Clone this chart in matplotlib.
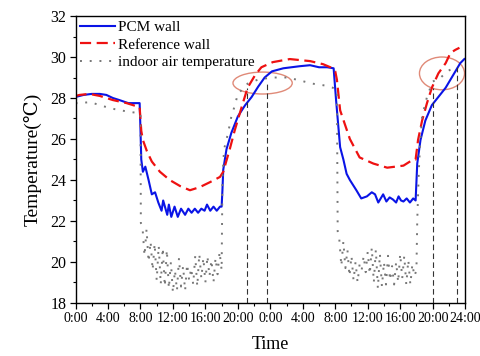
import numpy as np
import matplotlib
matplotlib.use("Agg")
import matplotlib.pyplot as plt
from matplotlib.patches import Ellipse

plt.rcParams['font.family'] = ['Liberation Serif', 'DejaVu Serif']

# PCM wall surface temperature (hours, degC)
t_pcm = [0, 0.5, 1, 2, 3, 3.8, 4.6, 5.4, 6.5, 7.9, 8.0, 8.1, 8.3, 8.6, 9.0, 9.4, 9.8,
         10.2, 10.6, 10.8, 11.3, 11.5, 11.8, 12.2, 12.6, 13.0, 13.5, 13.9, 14.3, 14.7,
         15.1, 15.5, 15.9, 16.2, 16.6, 17.0, 17.4, 17.8, 18.0, 18.1, 18.2, 18.6, 19.2,
         20.0, 20.9, 21.7, 22.5, 23.3, 24.2, 25.6, 27.6, 28.9, 30.0, 31.0, 31.8, 32.1,
         32.6, 33.0, 33.4, 33.8, 34.2, 34.6, 35.2, 35.9, 36.5, 36.9, 37.3, 37.9, 38.3,
         38.7, 39.1, 39.5, 39.8, 40.1, 40.4, 40.8, 41.2, 41.6, 41.9, 42.1, 42.5, 43.1,
         43.9, 44.7, 45.6, 46.2, 46.8, 47.4, 47.9]
v_pcm = [28.05, 28.1, 28.15, 28.2, 28.2, 28.15, 28.0, 27.9, 27.75, 27.75, 26.5, 25.0,
         24.4, 24.65, 24.0, 23.3, 23.4, 22.9, 22.5, 23.0, 22.3, 22.8, 22.2, 22.7, 22.2,
         22.6, 22.3, 22.6, 22.4, 22.6, 22.4, 22.6, 22.5, 22.8, 22.5, 22.7, 22.5, 22.7,
         22.7, 23.5, 24.5, 25.5, 26.3, 27.1, 27.65, 28.05, 28.55, 29.0, 29.3, 29.45,
         29.55, 29.6, 29.5, 29.5, 29.45, 27.9, 25.6, 25.0, 24.3, 24.0, 23.75, 23.5,
         23.1, 23.2, 23.4, 23.3, 22.9, 23.3, 22.95, 23.15, 23.05, 22.9, 23.2, 23.0,
         22.95, 23.1, 22.9, 23.1, 23.0, 24.8, 25.95, 26.9, 27.65, 28.05, 28.5, 28.9,
         29.3, 29.7, 29.9]

# reference wall
t_ref = [0, 0.5, 1.7, 3.0, 4.6, 6.3, 7.9, 8.1, 8.3, 8.8, 9.4, 10.4, 11.6, 12.9, 14.1,
         15.3, 16.6, 17.8, 18.2, 19.0, 19.6, 20.5, 21.2, 22.1, 22.9, 24.3, 26.4, 28.9,
         30.5, 31.4, 32.0, 32.2, 32.6, 33.8, 35.0, 36.7, 38.4, 40.4, 41.6, 41.9, 42.2,
         42.7, 43.3, 43.9, 44.7, 45.6, 46.2, 46.8, 47.3]
v_ref = [28.1, 28.15, 28.2, 28.1, 27.9, 27.75, 27.55, 26.4, 25.95, 25.4, 24.9, 24.4,
         24.0, 23.7, 23.5, 23.65, 23.9, 24.15, 24.4, 25.5, 26.4, 27.6, 28.5, 29.1, 29.5,
         29.75, 29.9, 29.8, 29.65, 29.5, 29.3, 28.9, 27.4, 26.0, 25.1, 24.8, 24.6, 24.7,
         25.0, 25.0, 25.95, 26.9, 27.75, 28.5, 29.2, 29.7, 30.2, 30.35, 30.45]

# indoor air temperature
t_air_night1 = [0, 0.5, 1.8, 3.0, 4.3, 5.5, 7.1, 8.0, 8.05]
v_air_night1 = [27.75, 27.75, 27.8, 27.65, 27.5, 27.4, 27.3, 27.25, 21.9]
t_air_day1 = np.arange(8.25, 18.01, 0.25)
v_air_day1 = [21.7, 20.3, 21.6, 20.0, 21.0, 19.6, 20.9, 19.1, 20.8, 18.9, 20.7, 18.8,
              20.6, 18.7, 20.0, 18.5, 19.6, 18.6, 20.2, 18.8, 19.8, 18.6, 19.9, 19.1,
              19.7, 18.9, 20.3, 18.8, 20.4, 19.2, 20.2, 19.0, 20.3, 19.3, 20.1, 19.0,
              20.2, 19.4, 20.5, 19.6]
t_air_night2 = [18.1, 18.3, 18.8, 19.2, 19.6, 20.0, 20.5, 21.2, 22.5, 24.2, 26.0, 27.2,
                29.2, 30.9, 31.7, 32.2, 32.3]
v_air_night2 = [24.0, 25.5, 26.3, 27.1, 27.6, 28.2, 28.4, 28.7, 28.9, 29.0, 29.0, 28.9,
                28.7, 28.6, 28.5, 28.4, 21.5]
t_air_day2 = np.arange(32.5, 42.01, 0.25)
v_air_day2 = [21.1, 19.8, 21.0, 19.7, 20.6, 19.3, 20.3, 19.1, 20.0, 19.0, 19.9, 19.6,
              20.3, 19.5, 20.5, 19.4, 20.7, 19.0, 20.6, 18.7, 20.4, 18.8, 20.0, 18.9,
              20.3, 19.1, 19.8, 18.9, 20.0, 19.0, 20.4, 19.2, 20.3, 18.9, 20.1, 18.9,
              19.9, 19.3, 19.6]
t_air_night3 = [42.1, 42.3, 42.5, 42.7, 43.3, 44.0, 45.0, 45.8, 46.5, 47.0]
v_air_night3 = [22.0, 24.5, 26.1, 27.1, 28.05, 28.8, 29.0, 29.3, 29.45, 29.45]

t_air = np.concatenate([t_air_night1, t_air_day1, t_air_night2, t_air_day2, t_air_night3])
v_air = np.concatenate([v_air_night1, v_air_day1, v_air_night2, v_air_day2, v_air_night3])

# marker lines and circled regions
mark_t = [21.1, 23.55, 44.1, 47.0]
mark_top = [28.5, 28.8, 28.5, 29.5]
circles = [(23.05, 28.73, 7.3, 1.07), (45.15, 29.2, 5.55, 1.6)]

xticks = np.arange(0, 49, 4)
xlabels = ['0:00', '4:00', '8:00', '12:00', '16:00', '20:00', '0:00', '4:00', '8:00',
           '12:00', '16:00', '20:00', '24:00']

fig = plt.figure(figsize=(4.81, 3.56), dpi=100)
ax = fig.add_axes([0.157, 0.149, 0.81, 0.806])

ax.plot(t_pcm, v_pcm, color='#0a14e6', lw=1.5, label='PCM wall')
ax.plot(t_ref, v_ref, color='#ee1111', lw=1.6, ls=(0, (5, 2.5)), label='Reference wall')
ax.plot(t_air, v_air, color='#777777', lw=1.4, ls=(0, (1, 4)), label='indoor air temperature')

ax.vlines(mark_t, 18, mark_top, colors='#333333', lw=0.8, linestyles=(0, (5, 3)))
for cx, cy, w, h in circles:
    ax.add_patch(Ellipse((cx, cy), w, h, fill=False, ec='#e08a78', lw=1.0))

ax.set_xlim(0, 48)
ax.set_ylim(18, 32)
ax.set_xticks(xticks)
ax.set_xticklabels(xlabels, fontsize=10)
ax.set_xticks(np.arange(0, 49, 2), minor=True)
ax.set_yticks(np.arange(18, 33, 2))
ax.set_yticks(np.arange(18, 33, 1), minor=True)
ax.tick_params(axis='y', labelsize=11.5)
ax.tick_params(which='major', direction='out', length=4.5, width=0.9, pad=2)
ax.tick_params(which='minor', direction='out', length=2.5, width=0.8)
for s in ax.spines.values():
    s.set_linewidth(1.0)

ax.set_ylabel('Temperature(℃)', fontsize=14, labelpad=6)
ax.set_xlabel('Time', fontsize=13, labelpad=8)

ax.legend(loc='upper left', frameon=False, fontsize=11, handlelength=2.3,
          handletextpad=0.2, labelspacing=0.25, borderaxespad=0.1, borderpad=0.2)

fig.savefig('out.png', dpi=100)
